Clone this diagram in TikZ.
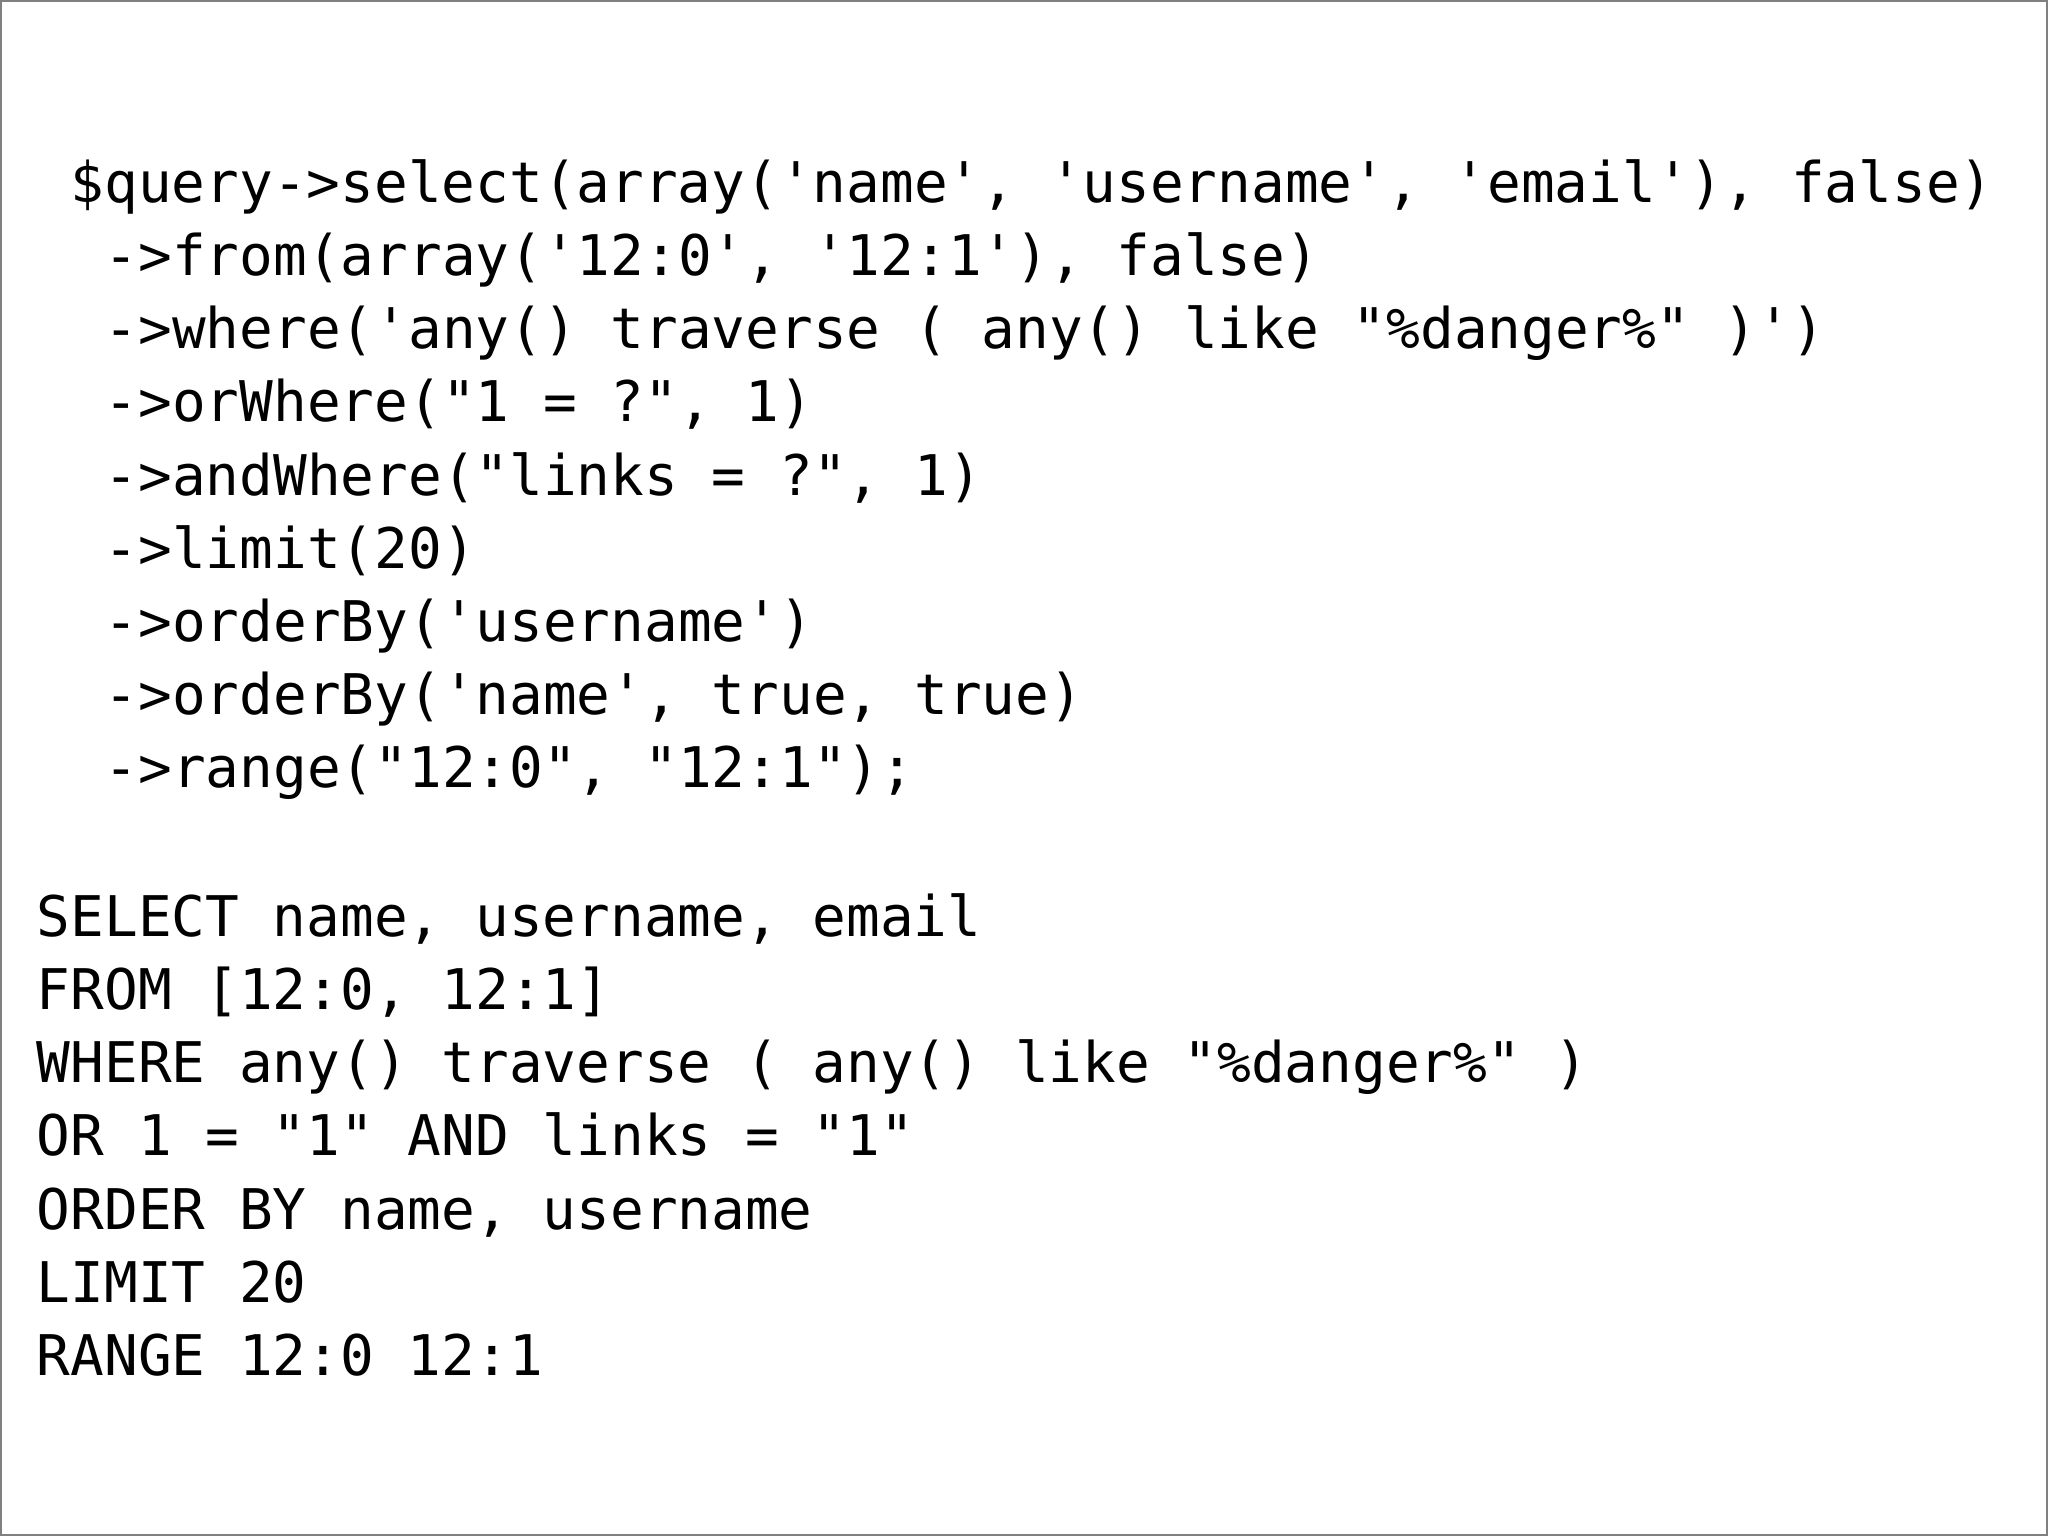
\documentclass[tikz,border=0pt]{standalone}
\usepackage{fontspec}
\newfontfamily\mono[Ligatures=TeXOff]{DejaVu Sans Mono}
\begin{document}
\begin{tikzpicture}[x=1pt,y=1pt,
  code/.style={anchor=base west,inner sep=0pt,font=\mono\fontsize{42.9}{56}\selectfont}]
\fill[white] (0,0) rectangle (1568,-1176);
\draw[gray,line width=1.5pt] (0.75,-0.75) rectangle (1567.25,-1175.25);
\node[code] (a1) at (54,-155) {\$query->select(array('name', 'username', 'email'), false)};
\node[code] (a2) at (80,-211) {->from(array('12:0', '12:1'), false)};
\node[code] (a3) at (80,-267) {->where('any() traverse ( any() like "\%danger\%" )')};
\node[code] (a4) at (80,-323) {->orWhere("1 = ?", 1)};
\node[code] (a5) at (80,-379) {->andWhere("links = ?", 1)};
\node[code] (a6) at (80,-435) {->limit(20)};
\node[code] (a7) at (80,-491) {->orderBy('username')};
\node[code] (a8) at (80,-547) {->orderBy('name', true, true)};
\node[code] (a9) at (80,-603) {->range("12:0", "12:1");};
\node[code] (b1) at (28,-717) {SELECT name, username, email};
\node[code] (b2) at (28,-773) {FROM [12:0, 12:1]};
\node[code] (b3) at (28,-829) {WHERE any() traverse ( any() like "\%danger\%" )};
\node[code] (b4) at (28,-885) {OR 1 = "1" AND links = "1"};
\node[code] (b5) at (28,-941) {ORDER BY name, username};
\node[code] (b6) at (28,-997) {LIMIT 20};
\node[code] (b7) at (28,-1053) {RANGE 12:0 12:1};
\end{tikzpicture}
\end{document}
